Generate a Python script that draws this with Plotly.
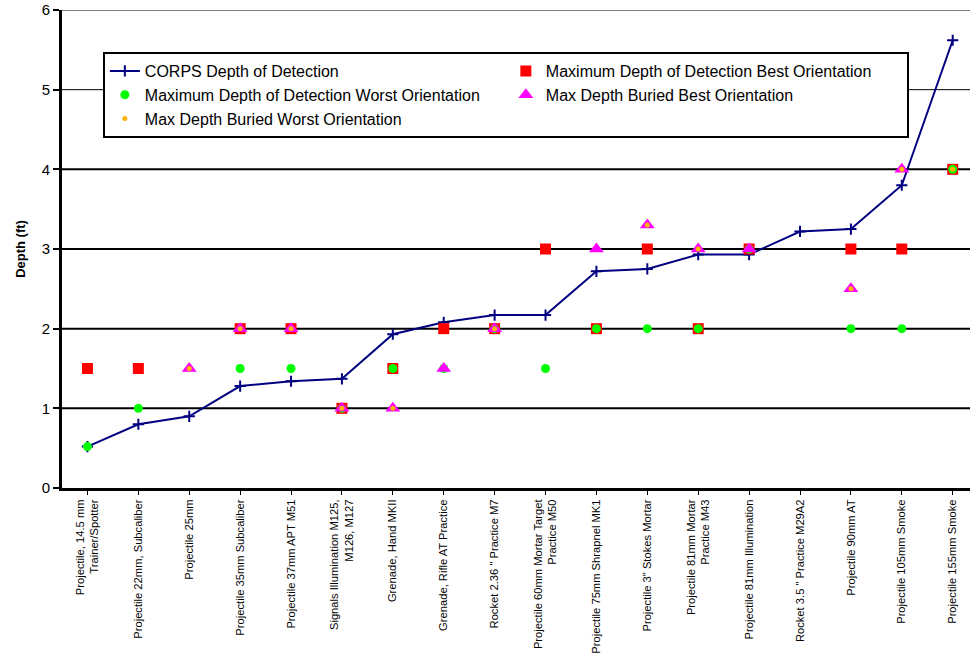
import plotly.graph_objects as go

# Ordnance items along the x axis
categories = [
    "Projectile, 14.5 mm<br>Trainer/Spotter",
    "Projectile 22mm, Subcaliber",
    "Projectile 25mm",
    "Projectile 35mm Subcaliber",
    "Projectile 37mm APT M51",
    "Signals Illumination M125,<br>M126, M127",
    "Grenade, Hand MKII",
    "Grenade, Rifle AT Practice",
    "Rocket 2.36 \" Practice M7",
    "Projectile 60mm Mortar Target<br>Practice M50",
    "Projectile 75mm Shrapnel MK1",
    "Projectile 3\" Stokes Mortar",
    "Projectile 81mm Mortar<br>Practice M43",
    "Projectile 81mm Illumination",
    "Rocket 3.5 \" Practice M29A2",
    "Projectile 90mm AT",
    "Projectile 105mm Smoke",
    "Projectile 155mm Smoke",
]

# Depths in feet (None = not reported)
corps_depth = [0.52, 0.80, 0.90, 1.28, 1.34, 1.37, 1.93, 2.08, 2.17, 2.17,
               2.72, 2.75, 2.93, 2.93, 3.22, 3.25, 3.80, 5.62]
detect_best = [1.5, 1.5, None, 2, 2, 1, 1.5, 2, 2, 3,
               2, 3, 2, 3, None, 3, 3, 4]
detect_worst = [0.52, 1.0, None, 1.5, 1.5, 1, 1.5, 1.5, 2, 1.5,
                2, 2, 2, 3, None, 2, 2, 4]
buried_best = [None, None, 1.5, 2, 2, 1, 1, 1.5, 2, None,
               3, 3.3, 3, 3, None, 2.5, 4, None]
buried_worst = [None, None, 1.5, 2, 2, 1, 1, None, 2, None,
                None, 3.3, 3, None, None, 2.5, 4, 4]

y_ticks = [0, 1, 2, 3, 4, 5, 6]

font_family = "Arial, Liberation Sans, sans-serif"
x_idx = list(range(len(categories)))

fig = go.Figure()

fig.add_trace(go.Scatter(
    x=x_idx, y=corps_depth, mode="lines+markers",
    name="CORPS Depth of Detection",
    line=dict(color="#000080", width=2),
    marker=dict(symbol="cross-thin-open", size=8,
                line=dict(color="#000080", width=2)),
))
fig.add_trace(go.Scatter(
    x=x_idx, y=detect_best, mode="markers",
    name="Maximum Depth of Detection Best Orientation",
    marker=dict(symbol="square", size=11, color="#FF0000"),
))
fig.add_trace(go.Scatter(
    x=x_idx, y=detect_worst, mode="markers",
    name="Maximum Depth of Detection Worst Orientation",
    marker=dict(symbol="circle", size=9, color="#00FF00"),
))
fig.add_trace(go.Scatter(
    x=x_idx, y=buried_best, mode="markers",
    name="Max Depth Buried Best Orientation",
    marker=dict(symbol="triangle-up", size=13, color="#FF00FF"),
))
fig.add_trace(go.Scatter(
    x=x_idx, y=buried_worst, mode="markers",
    name="Max Depth Buried Worst Orientation",
    marker=dict(symbol="circle", size=5, color="#FFB300"),
))

# Horizontal grid lines
shapes = []
for v in y_ticks[1:]:
    shapes.append(dict(
        type="line", xref="paper", yref="y", x0=0, x1=1, y0=v, y1=v,
        line=dict(color="#808080" if v == 6 else "black",
                  width=1 if v == 5 else 2),
        layer="below",
    ))

fig.update_layout(
    width=970, height=658,
    margin=dict(l=62, r=0, t=10, b=170),
    paper_bgcolor="white", plot_bgcolor="white",
    font=dict(family=font_family, color="black"),
    showlegend=True,
    shapes=shapes,
    legend=dict(
        orientation="h",
        x=0.045, y=0.912, xanchor="left", yanchor="top",
        bgcolor="white", bordercolor="black", borderwidth=2,
        font=dict(size=16, family=font_family),
        entrywidth=356, itemsizing="trace",
        traceorder="normal",
    ),
    xaxis=dict(
        range=[-0.5, 17.34],
        tickmode="array", tickvals=x_idx, ticktext=categories,
        tickangle=-90, tickfont=dict(size=11.2),
        automargin=False,
        showgrid=False, zeroline=False,
        showline=True, linecolor="black", linewidth=3,
        ticks="outside", tickson="boundaries", ticklen=4,
        tickcolor="black", tickwidth=1,
    ),
    yaxis=dict(
        range=[0, 6], tickvals=y_ticks,
        tickfont=dict(size=15),
        automargin=False,
        title=dict(text="<b>Depth (ft)</b>", font=dict(size=13), standoff=14),
        showgrid=False, zeroline=False,
        showline=True, linecolor="black", linewidth=3,
        ticks="outside", ticklen=6, tickcolor="black", tickwidth=2,
    ),
)

fig.write_html("out.html")
